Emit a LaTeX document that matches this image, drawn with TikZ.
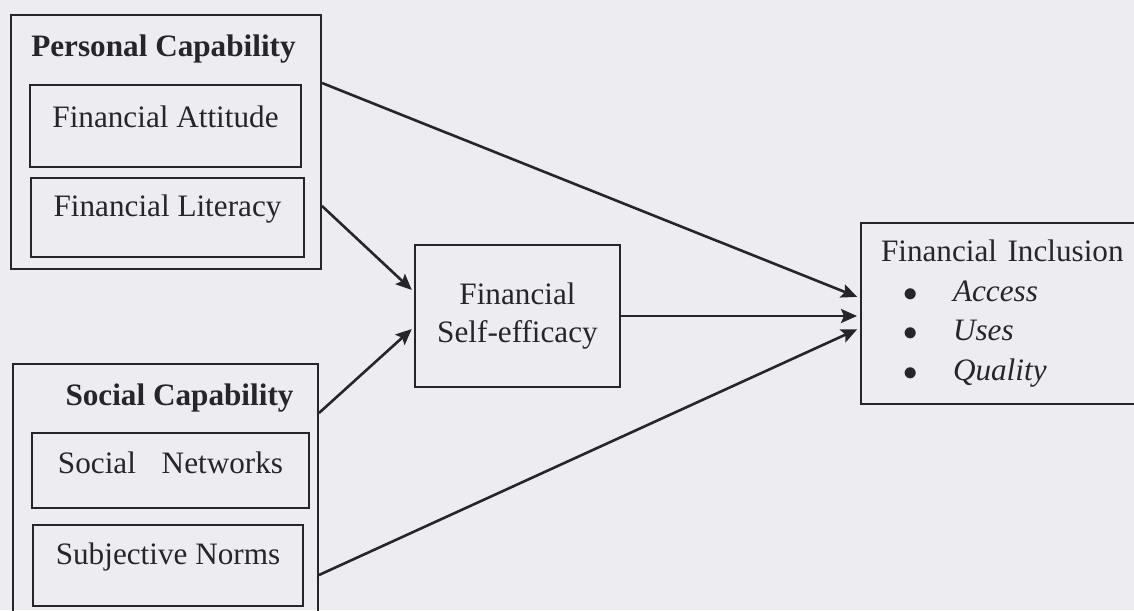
\documentclass[tikz,border=0pt]{standalone}
\usepackage{fontspec}
\setmainfont{Liberation Serif}
\usetikzlibrary{arrows.meta,positioning}
\definecolor{ink}{RGB}{38,38,42}
\definecolor{paper}{RGB}{237,237,241}
\begin{document}
\begin{tikzpicture}[x=0.5pt, y=-0.5pt, font=\fontsize{15.6}{19}\selectfont, color=ink,
  box/.style={draw=ink, line width=1pt, anchor=north west, inner sep=0pt},
  inbox/.style={box, text height=20pt, text depth=20pt},
  title/.style={anchor=base, font=\fontsize{15.6}{19}\selectfont\bfseries},
  link/.style={line width=1.3pt, -{Stealth[length=8pt, width=7pt, inset=1.5pt]}, shorten >=1.5pt}]
\useasboundingbox (0,0) rectangle (1134,610);
\clip (0,0) rectangle (1134,610);
\fill[paper] (0,0) rectangle (1134,610);
% personal capability
\node[box, minimum width=155pt, minimum height=127pt] (pers) at (10,14) {};
\node[title] (perst) at (163.5,57) {Personal Capability};
\node[inbox, minimum width=135.5pt, text height=21pt] (att) at (29,84) {Financial Attitude};
\node[inbox, minimum width=136.5pt, text height=19pt, text depth=20.5pt] (lit) at (30,177) {Financial Literacy};
% social capability
\node[box, minimum width=152.5pt, minimum height=131pt] (soc) at (12,363) {};
\node[title] (soct) at (179.5,405) {Social Capability};
\node[inbox, minimum width=138.5pt, text depth=17.5pt] (net) at (31,432) {Social\hspace{9pt} Networks};
\node[inbox, minimum width=135pt, text height=19.5pt, text depth=21pt] (norm) at (32,524) {Subjective Norms};
% mediator and outcome
\node[box, minimum width=102.5pt, minimum height=71pt, align=center] (eff) at (414,244) {Financial\\Self-efficacy};
\node[box, minimum height=90.5pt, text width=122pt, inner xsep=10pt, align=left,
  font=\fontsize{15.6}{19.7}\selectfont] (incl) at (860,222)
  {Financial Inclusion\\
   \hspace*{11pt}\makebox[8pt]{$\bullet$}\hspace*{17pt}\textit{Access}\\
   \hspace*{11pt}\makebox[8pt]{$\bullet$}\hspace*{17pt}\textit{Uses}\\
   \hspace*{11pt}\makebox[8pt]{$\bullet$}\hspace*{17pt}\textit{Quality}};
% paths
\draw[link] ([yshift=-34.5pt]pers.north east) -- ([yshift=7.75pt]incl.west);
\draw[link] ([yshift=32pt]pers.south east) -- ([yshift=12pt]eff.west);
\draw[link] ([yshift=-25pt]soc.north east) -- ([yshift=-5.5pt]eff.west);
\draw[link] (eff.east) -- (eff.east -| incl.west);
\draw[link] ([yshift=-106pt]soc.north east) -- ([yshift=-7.25pt]incl.west);
\end{tikzpicture}
\end{document}
